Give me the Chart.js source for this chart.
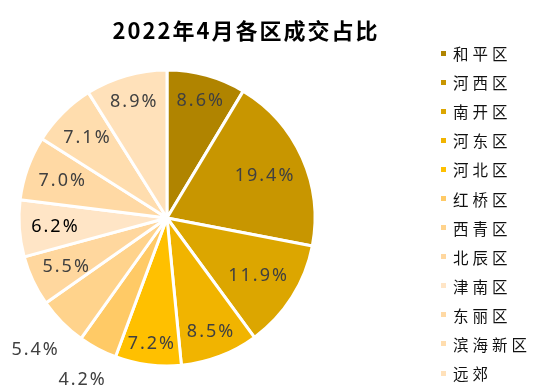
<!DOCTYPE html>
<html>
<head>
<meta charset="utf-8">
<script src="https://cdn.jsdelivr.net/npm/chart.js@4.4.1/dist/chart.umd.min.js"></script>
<style>
  body { margin: 0; background: #fff; }
  #wrap { position: relative; width: 548px; height: 390px; overflow: hidden; }
  #chart { position: absolute; left: 0; top: 0; }
  #title {
    position: absolute; left: 0; top: 13px; width: 492px; line-height: 30px;
    text-align: center; font: bold 22px "Noto Sans CJK SC"; letter-spacing: 2px; color: #000;
  }
  #legend { position: absolute; left: 441px; top: 38.5px; }
  #legend .row { height: 29.1px; display: flex; align-items: center; }
  #legend .box { width: 5px; height: 5px; margin-right: 7px; }
  #legend .txt { font: 15.5px "Noto Sans CJK SC"; letter-spacing: 4px; color: #111; line-height: 20px; }
</style>
</head>
<body>
<div id="wrap">
  <canvas id="chart" width="548" height="390"></canvas>
  <div id="title">2022年4月各区成交占比</div>
  <div id="legend"></div>
</div>
<script>
const districts = ["和平区", "河西区", "南开区", "河东区", "河北区", "红桥区",
  "西青区", "北辰区", "津南区", "东丽区", "滨海新区", "远郊"];
const shares = [8.6, 19.4, 11.9, 8.5, 7.2, 4.2, 5.4, 5.5, 6.2, 7.0, 7.1, 8.9];
const colors = ["#B08400", "#C89600", "#DCA600", "#F1B400", "#FFC000", "#FFCA66",
  "#FFD38C", "#FFD79E", "#FFE5C6", "#FFD9A4", "#FFDDAE", "#FFE1BA"];

// slices smaller than this get their label outside the pie
const outsideBelow = 5.45;
const darkLabel = "津南区";

const legend = document.getElementById("legend");
districts.forEach((name, i) => {
  const row = document.createElement("div");
  row.className = "row";
  row.innerHTML = `<span class="box" style="background:${colors[i]}"></span><span class="txt">${name}</span>`;
  legend.appendChild(row);
});

const sliceLabels = {
  id: "sliceLabels",
  afterDatasetsDraw(chart) {
    const { ctx } = chart;
    const meta = chart.getDatasetMeta(0);
    ctx.save();
    ctx.font = '18px "Noto Sans"';
    ctx.letterSpacing = "2px";
    ctx.textAlign = "center";
    ctx.textBaseline = "middle";
    meta.data.forEach((arc, i) => {
      const p = arc.getProps(["x", "y", "startAngle", "endAngle", "outerRadius"], true);
      const mid = (p.startAngle + p.endAngle) / 2;
      const text = shares[i].toFixed(1) + "%";
      const halfW = ctx.measureText(text).width / 2;
      const halfH = 9;
      const c = Math.cos(mid), s = Math.sin(mid);
      const extent = Math.abs(c) * halfW + Math.abs(s) * halfH;
      const dist = shares[i] < outsideBelow
        ? p.outerRadius + 15 + extent
        : p.outerRadius * 0.93 - extent;
      ctx.fillStyle = districts[i] === darkLabel ? "#000" : "#404040";
      ctx.fillText(text, p.x + c * dist + 1, p.y + s * dist + 1);
    });
    ctx.restore();
  },
};

new Chart(document.getElementById("chart"), {
  type: "pie",
  data: {
    labels: districts,
    datasets: [{
      data: shares,
      backgroundColor: colors,
      borderColor: "#fff",
      borderWidth: 3,
      hoverOffset: 0,
    }],
  },
  options: {
    responsive: false,
    animation: false,
    layout: { padding: { left: 17.5, right: 231.5, top: 68.5, bottom: 22.5 } },
    plugins: {
      legend: { display: false },
      title: { display: false },
      tooltip: { enabled: false },
    },
  },
  plugins: [sliceLabels],
});
</script>
</body>
</html>
